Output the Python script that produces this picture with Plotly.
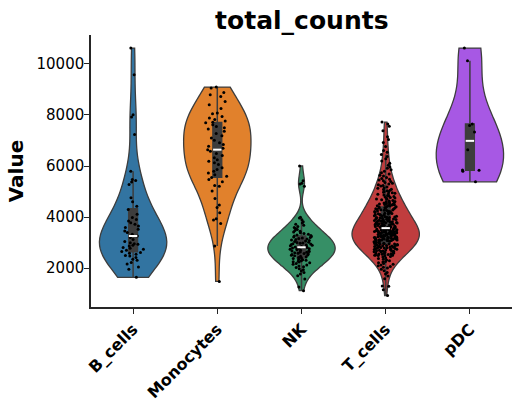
import numpy as np
import plotly.graph_objects as go

categories = ["B_cells", "Monocytes", "NK", "T_cells", "pDC"]
colors = ["#3274a1", "#e1812c", "#368f66", "#c03d3e", "#a758e4"]

b_cells = [10620, 9570, 8010, 7920, 7230, 5800, 5470, 5430, 5370, 5280,
           4760, 4600, 4420, 4300, 4110, 3980, 3910, 3850, 3780, 3720,
           3650, 3590, 3520, 3460, 3400, 3330, 3260, 3200, 3120, 3040,
           3000, 2960, 2940, 2900, 2870, 2810, 2780, 2740, 2700, 2650,
           2610, 2580, 2550, 2500, 2480, 2420, 2350, 2310, 2220, 2160,
           2050, 1960, 1640]

monocytes = [9090, 9050, 8880, 8790, 8720, 8530, 8400, 8250, 8080, 8050,
             7940, 7880, 7820, 7760, 7710, 7690, 7620, 7550, 7500, 7450,
             7360, 7270, 7190, 7100, 7010, 6910, 6840, 6770, 6700, 6640,
             6580, 6490, 6410, 6320, 6250, 6190, 6130, 6060, 5930, 5860,
             5800, 5730, 5660, 5600, 5550, 5470, 5380, 5240, 5210, 5020,
             4730, 4470, 4380, 4170, 3940, 3890, 3750, 2870, 1480]

nk = [6000, 5420, 5330, 5300, 5210, 3990, 3960, 3900, 3820, 3770,
      3720, 3680, 3630, 3590, 3550, 3510, 3480, 3450, 3420, 3390,
      3360, 3330, 3300, 3280, 3260, 3240, 3220, 3200, 3180, 3160,
      3140, 3120, 3100, 3080, 3060, 3040, 3020, 3010, 2990, 2975,
      2960, 2945, 2930, 2910, 2895, 2880, 2860, 2845, 2830, 2810,
      2795, 2780, 2765, 2755, 2740, 2720, 2700, 2685, 2670, 2650,
      2635, 2620, 2600, 2585, 2570, 2555, 2540, 2520, 2505, 2490,
      2470, 2445, 2420, 2400, 2375, 2350, 2330, 2310, 2290, 2270,
      2255, 2240, 2210, 2180, 2150, 2120, 2090, 2060, 2030, 1980,
      1940, 1890, 1830, 1770, 1700, 1580, 1260, 1120]

t_cells = [7720, 7650, 7560, 7380, 7150, 7040, 6920, 6760, 6610, 6540,
           6450, 6370, 6280, 6200, 6110, 6030,
           5960, 5915, 5850, 5795, 5740, 5685, 5640, 5605, 5550, 5515,
           5485, 5450, 5425, 5390, 5355, 5330, 5295, 5270, 5240, 5215,
           5180, 5150, 5125, 5095, 5080, 5050, 5030, 5005,
           4990, 4970, 4955, 4930, 4915, 4890, 4870, 4845, 4830, 4810,
           4790, 4770, 4750, 4735, 4710, 4695, 4675, 4650, 4635, 4615,
           4600, 4580, 4565, 4550, 4535, 4520, 4510, 4502,
           4495, 4482, 4470, 4455, 4445, 4430, 4418, 4405, 4392, 4380,
           4368, 4355, 4342, 4330, 4318, 4305, 4292, 4280, 4268, 4255,
           4243, 4230, 4218, 4205, 4192, 4180, 4168, 4155, 4143, 4130,
           4118, 4105, 4092, 4080, 4068, 4055, 4043, 4030, 4018, 4005,
           3998, 3985, 3981, 3966, 3959, 3950, 3938, 3935, 3921, 3912,
           3909, 3894, 3890, 3877, 3866, 3862, 3850, 3841, 3838, 3822,
           3815, 3804, 3801, 3786, 3779, 3768, 3764, 3750, 3741, 3737,
           3722, 3719, 3705, 3698, 3688, 3683, 3670, 3661, 3655, 3642,
           3634, 3629, 3615, 3607, 3602, 3588, 3580, 3576, 3561, 3553,
           3549, 3535, 3526, 3520, 3508,
           3497, 3491, 3484, 3478, 3470, 3466, 3459, 3451, 3447, 3440,
           3433, 3428, 3420, 3414, 3406, 3401, 3395, 3387, 3380, 3376,
           3368, 3361, 3355, 3349, 3341, 3336, 3328, 3322, 3315, 3308,
           3303, 3295, 3289, 3281, 3276, 3268, 3262, 3255, 3247, 3243,
           3235, 3229, 3220, 3214, 3209, 3201, 3195, 3188, 3180, 3175,
           3167, 3160, 3154, 3146, 3141, 3133, 3127, 3119, 3112, 3106,
           3099, 3092, 3086, 3079, 3071, 3066, 3058, 3049, 3033, 3012,
           2994, 2985, 2977, 2968, 2960, 2951, 2944, 2935, 2926, 2919,
           2910, 2901, 2893, 2884, 2876, 2867, 2858, 2850, 2841, 2833,
           2824, 2815, 2806, 2797, 2788, 2779, 2770, 2761, 2752, 2741,
           2732, 2722, 2713, 2703, 2694, 2684, 2675, 2664, 2654, 2645,
           2634, 2623, 2612, 2601, 2590, 2578, 2566, 2555, 2543, 2531,
           2520, 2512, 2506, 2503, 2501,
           2490, 2462, 2433, 2401, 2377, 2348, 2322, 2291, 2266, 2238,
           2212, 2183, 2151, 2124, 2093, 2064, 2037, 2011,
           1962, 1897, 1834, 1771, 1693, 1582, 1305, 1288, 1152, 930]

pdc = [10620, 10120, 7650, 7590, 7330, 6640, 5840, 5830, 5800, 5380]

series = [b_cells, monocytes, nk, t_cells, pdc]

y_ticks = [2000, 4000, 6000, 8000, 10000]

FONT = "DejaVu Sans"
fig = go.Figure()

for cat, vals, col in zip(categories, series, colors):
    arr = np.asarray(vals, dtype=float)
    bw = arr.std(ddof=1) * len(arr) ** (-1 / 5)  # Scott's rule, like seaborn
    fig.add_trace(go.Violin(
        x=[cat] * len(vals), y=vals, name=cat,
        fillcolor=col, opacity=1,
        line=dict(color="#3d3d3d", width=1.3),
        points="all", pointpos=0, jitter=0.35,
        marker=dict(color="black", size=3, line=dict(width=0)),
        box=dict(visible=True, width=0.13, fillcolor="#3d3d3d",
                 line=dict(color="#3d3d3d", width=1.5)),
        meanline=dict(visible=False),
        spanmode="hard", width=0.8, bandwidth=bw, scalemode="width",
        showlegend=False, hoverinfo="skip",
    ))
    fig.add_trace(go.Scatter(
        x=[cat], y=[float(np.median(arr))], mode="markers",
        marker=dict(symbol="line-ew", size=6, line=dict(color="white", width=2)),
        showlegend=False, hoverinfo="skip",
    ))

fig.update_layout(
    width=521, height=403,
    margin=dict(l=91, r=9, t=35, b=96),
    paper_bgcolor="white", plot_bgcolor="white",
    violinmode="overlay",
    font=dict(family=FONT, color="black"),
    title=dict(text="<b>total_counts</b>", x=0.5793, xanchor="center",
               y=0.950, yanchor="middle", font=dict(family=FONT, size=25, color="black")),
)
fig.update_xaxes(
    type="category", categoryorder="array", categoryarray=categories,
    range=[-0.5, 4.5], showline=True, linecolor="#262626", linewidth=1.5,
    ticks="outside", ticklen=5, tickwidth=1.2, tickcolor="#262626",
    tickangle=-45, tickfont=dict(family=FONT, size=16, color="black", weight="bold"),
    showgrid=False, zeroline=False, automargin=False,
)
fig.update_yaxes(
    range=[480, 11130], tickvals=y_ticks, ticktext=[str(v) for v in y_ticks],
    showline=True, linecolor="#262626", linewidth=1.5,
    ticks="outside", ticklen=5, tickwidth=1.2, tickcolor="#262626",
    tickfont=dict(family=FONT, size=15, color="black"), ticklabelstandoff=-3,
    title=dict(text="<b>Value</b>", font=dict(family=FONT, size=20, color="black"), standoff=8),
    showgrid=False, zeroline=False, automargin=False,
)

fig.write_html("out.html")
